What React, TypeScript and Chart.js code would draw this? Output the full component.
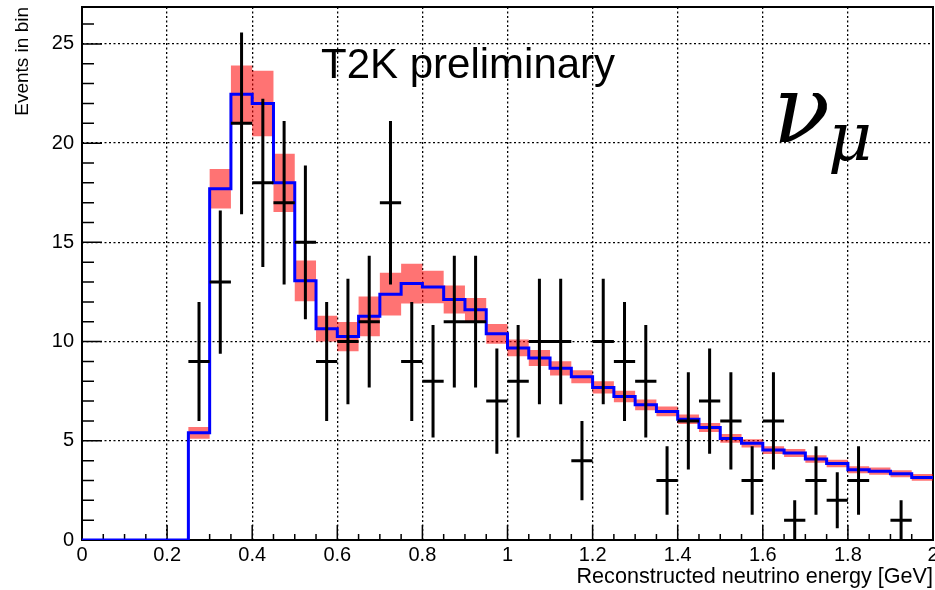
import React, { useEffect, useRef } from 'react';
import { Chart, registerables } from 'chart.js';

Chart.register(...registerables);

// Bin low edges (GeV), bin width 0.05
const binLow = [
  0, 0.05, 0.1, 0.15, 0.2, 0.25, 0.3, 0.35, 0.4, 0.45,
  0.5, 0.55, 0.6, 0.65, 0.7, 0.75, 0.8, 0.85, 0.9, 0.95,
  1.0, 1.05, 1.1, 1.15, 1.2, 1.25, 1.3, 1.35, 1.4, 1.45,
  1.5, 1.55, 1.6, 1.65, 1.7, 1.75, 1.8, 1.85, 1.9, 1.95,
];
const binWidth = 0.05;

// MC prediction (blue histogram)
const mcPrediction = [
  0, 0, 0, 0, 0, 5.4, 17.7, 22.46, 22.0, 18.0,
  13.06, 10.65, 10.25, 11.27, 12.39, 12.92, 12.75, 12.12, 11.6, 10.39,
  9.68, 9.17, 8.65, 8.23, 7.69, 7.23, 6.81, 6.48, 6.09, 5.67,
  5.12, 4.87, 4.53, 4.38, 4.08, 3.86, 3.54, 3.47, 3.34, 3.15,
];

// MC systematic uncertainty (half-height of red band)
const mcError = [
  0, 0, 0, 0, 0, 0.3, 1.0, 1.45, 1.65, 1.47,
  1.03, 0.65, 0.74, 1.0, 1.08, 1.0, 0.82, 0.7, 0.6, 0.5,
  0.42, 0.4, 0.36, 0.33, 0.31, 0.29, 0.27, 0.25, 0.24, 0.23,
  0.22, 0.21, 0.2, 0.2, 0.19, 0.19, 0.18, 0.18, 0.18, 0.17,
];

// Observed events
const dataCounts = [
  0, 0, 0, 0, 0, 9, 13, 21, 18, 17,
  15, 9, 10, 11, 17, 9, 8, 11, 11, 7,
  8, 10, 10, 4, 10, 9, 8, 3, 6, 7,
  6, 3, 6, 1, 3, 2, 3, 0, 1, 0,
];
const dataError = [
  0, 0, 0, 0, 0, 3.0, 3.61, 4.58, 4.24, 4.12,
  3.87, 3.0, 3.16, 3.32, 4.12, 3.0, 2.83, 3.32, 3.32, 2.65,
  2.83, 3.16, 3.16, 2.0, 3.16, 3.0, 2.83, 1.73, 2.45, 2.65,
  2.45, 1.73, 2.45, 1.0, 1.73, 1.41, 1.73, 0, 1.0, 0,
];

const xTickLabels = ['0', '0.2', '0.4', '0.6', '0.8', '1', '1.2', '1.4', '1.6', '1.8', '2'];
const yTickLabels = ['0', '5', '10', '15', '20', '25'];

const X_MIN = 0;
const X_MAX = 2;
const Y_MIN = 0;
const Y_MAX = 26.86;

function stepPoints(values: number[]) {
  const pts = binLow.map((x, i) => ({ x, y: values[i] }));
  pts.push({ x: binLow[binLow.length - 1] + binWidth, y: values[values.length - 1] });
  return pts;
}

function crossVertical() {
  const pts: { x: number; y: number | null }[] = [];
  dataCounts.forEach((n, i) => {
    if (n <= 0) return;
    const c = binLow[i] + binWidth / 2;
    pts.push({ x: c, y: n - dataError[i] });
    pts.push({ x: c, y: n + dataError[i] });
    pts.push({ x: c, y: null });
  });
  return pts;
}

function crossHorizontal() {
  const pts: { x: number; y: number | null }[] = [];
  dataCounts.forEach((n, i) => {
    if (n <= 0) return;
    pts.push({ x: binLow[i], y: n });
    pts.push({ x: binLow[i] + binWidth, y: n });
    pts.push({ x: binLow[i] + binWidth, y: null });
  });
  return pts;
}

const framePlugin = {
  id: 'rootFrame',
  beforeDatasetsDraw(chart: any) {
    const { ctx, chartArea: a, scales } = chart;
    const x = scales.x;
    const y = scales.y;
    ctx.save();
    ctx.strokeStyle = '#000';
    ctx.lineWidth = 2;
    ctx.strokeRect(a.left, a.top, a.right - a.left, a.bottom - a.top);
    ctx.lineWidth = 1.5;
    ctx.beginPath();
    for (let i = 0; i <= 40; i++) {
      const px = x.getPixelForValue(i * 0.05);
      const len = i % 4 === 0 ? 15 : 6;
      ctx.moveTo(px, a.bottom);
      ctx.lineTo(px, a.bottom - len);
    }
    for (let j = 0; j <= 26; j++) {
      const py = y.getPixelForValue(j);
      const len = j % 5 === 0 ? 20 : 12;
      ctx.moveTo(a.left, py);
      ctx.lineTo(a.left + len, py);
    }
    ctx.stroke();
    ctx.restore();
  },
  afterDraw(chart: any) {
    const { ctx, chartArea: a } = chart;
    ctx.save();
    ctx.fillStyle = '#000';
    ctx.textBaseline = 'alphabetic';
    // Header
    ctx.textAlign = 'left';
    ctx.font = '42px "Liberation Sans"';
    ctx.fillText('T2K preliminary', 321, 78);
    // nu_mu
    ctx.font = 'italic 94px "DejaVu Serif"';
    ctx.fillText('ν', 773, 142);
    ctx.font = 'italic 68px "DejaVu Serif"';
    ctx.fillText('μ', 828, 160);
    // X title
    ctx.textAlign = 'right';
    ctx.font = '21.6px "Liberation Sans"';
    ctx.fillText('Reconstructed neutrino energy [GeV]', a.right, 583);
    // Y title
    ctx.translate(28, a.top);
    ctx.rotate(-Math.PI / 2);
    ctx.textAlign = 'right';
    ctx.font = '19px "Liberation Sans"';
    ctx.fillText('Events in bin', 0, 0);
    ctx.restore();
  },
};

export default function App() {
  const canvasRef = useRef<HTMLCanvasElement | null>(null);

  useEffect(() => {
    if (!canvasRef.current) return;
    const bandLow = stepPoints(mcPrediction.map((v, i) => v - mcError[i]));
    const bandHigh = stepPoints(mcPrediction.map((v, i) => v + mcError[i]));
    const chart = new Chart(canvasRef.current, {
      type: 'line',
      data: {
        datasets: [
          {
            label: 'band low',
            data: bandLow,
            stepped: true,
            borderWidth: 0,
            borderColor: 'rgba(0,0,0,0)',
            pointRadius: 0,
            fill: false,
            order: 5,
          } as any,
          {
            label: 'band high',
            data: bandHigh,
            stepped: true,
            borderWidth: 0,
            borderColor: 'rgba(0,0,0,0)',
            backgroundColor: 'rgba(255,0,0,0.55)',
            pointRadius: 0,
            fill: '-1',
            order: 4,
          } as any,
          {
            label: 'MC',
            data: stepPoints(mcPrediction),
            stepped: true,
            borderWidth: 3,
            borderColor: '#0000ff',
            pointRadius: 0,
            fill: false,
            order: 3,
          } as any,
          {
            label: 'data vertical',
            data: crossVertical(),
            borderWidth: 3,
            borderColor: '#000',
            borderCapStyle: 'butt',
            pointRadius: 0,
            spanGaps: false,
            fill: false,
            order: 1,
          } as any,
          {
            label: 'data horizontal',
            data: crossHorizontal(),
            borderWidth: 3,
            borderColor: '#000',
            borderCapStyle: 'butt',
            pointRadius: 0,
            spanGaps: false,
            fill: false,
            order: 2,
          } as any,
        ],
      },
      options: {
        animation: false,
        responsive: false,
        events: [],
        layout: { padding: { top: 7, right: 2, left: 0, bottom: 0 } },
        plugins: {
          legend: { display: false },
          tooltip: { enabled: false },
          title: { display: false },
        },
        elements: { line: { tension: 0 } },
        scales: {
          x: {
            type: 'linear',
            min: X_MIN,
            max: X_MAX,
            border: { display: false, dash: [2, 2.5] },
            grid: { color: '#000', lineWidth: 1.3, drawTicks: false },
            ticks: {
              stepSize: 0.2,
              includeBounds: false,
              autoSkip: false,
              maxRotation: 0,
              padding: 3,
              color: '#000',
              font: { family: 'Liberation Sans', size: 20 },
              callback: (_v: any, i: number) => xTickLabels[i] ?? '',
            },
            afterFit: (s: any) => {
              s.height = 50;
              s.paddingLeft = 0;
              s.paddingRight = 0;
            },
          },
          y: {
            type: 'linear',
            min: Y_MIN,
            max: Y_MAX,
            border: { display: false, dash: [2, 2.5] },
            grid: { color: '#000', lineWidth: 1.3, drawTicks: false },
            ticks: {
              stepSize: 5,
              includeBounds: false,
              autoSkip: false,
              padding: 8,
              color: '#000',
              font: { family: 'Liberation Sans', size: 20 },
              callback: (_v: any, i: number) => yTickLabels[i] ?? '',
            },
            afterFit: (s: any) => {
              s.width = 82;
              s.paddingTop = 0;
              s.paddingBottom = 0;
            },
          },
        },
      } as any,
      plugins: [framePlugin],
    });
    return () => chart.destroy();
  }, []);

  return (
    <div style={{ position: 'absolute', left: 0, top: 0, width: 935, height: 590, background: '#fff' }}>
      <canvas ref={canvasRef} width={935} height={590} />
    </div>
  );
}
